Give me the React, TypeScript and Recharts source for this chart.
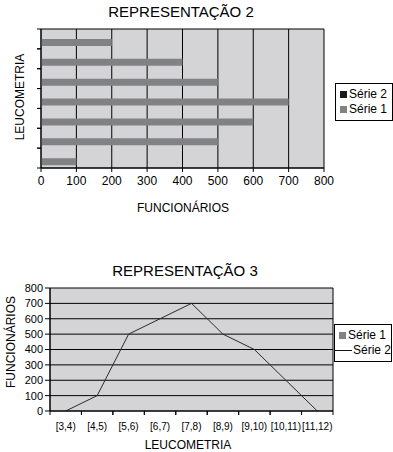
import { BarChart, Bar, LineChart, Line, XAxis, YAxis, CartesianGrid } from 'recharts'

// faixas de leucometria (classes) e nº de funcionários por faixa
const classes = ['[3,4)', '[4,5)', '[5,6)', '[6,7)', '[7,8)', '[8,9)', '[9,10)', '[10,11)', '[11,12)']
const funcionarios = [0, 100, 500, 600, 700, 500, 400, 200, 0]
const serie2Barras = [0, 0, 0, 0, 0, 0, 0]
const funcTicks = [0, 100, 200, 300, 400, 500, 600, 700, 800]

// representação 2 só mostra as classes [4,5) .. [10,11)
const barData = classes.slice(1, 8).map((c, i) => ({
  classe: c,
  s1: funcionarios[i + 1],
  s2: serie2Barras[i],
}))
const lineData = classes.map((c, i) => ({ classe: c, s2: funcionarios[i] }))

const FONT = '"Liberation Sans", Arial, sans-serif'
const GRAY_BG = '#d4d4d6'
const BAR_GRAY = '#818284'

function Txt({ x, y, size = 12, rotate = false, children }: any) {
  return (
    <div
      style={{
        position: 'absolute',
        left: x,
        top: y,
        transform: `translate(-50%, -50%)${rotate ? ' rotate(-90deg)' : ''}`,
        whiteSpace: 'nowrap',
        fontSize: size,
        color: '#000',
        lineHeight: 1,
      }}
    >
      {children}
    </div>
  )
}

// tick marks at band edges (excel style)
const BandTickY = (props: any) => {
  const { x, y, payload } = props
  const off = payload.offset ?? 0
  return (
    <g>
      <line x1={x - 4} x2={x} y1={y - off} y2={y - off} stroke="#000" />
      <line x1={x - 4} x2={x} y1={y + off} y2={y + off} stroke="#000" />
    </g>
  )
}

const BandTickX = (props: any) => {
  const { x, y, payload } = props
  const off = payload.offset ?? 0
  return (
    <g>
      <line x1={x - off} x2={x - off} y1={y} y2={y + 4} stroke="#000" />
      <line x1={x + off} x2={x + off} y1={y} y2={y + 4} stroke="#000" />
      <text x={x} y={y + 16} textAnchor="middle" dominantBaseline="middle" fontSize={10} fill="#000" fontFamily={FONT}>
        {payload.value}
      </text>
    </g>
  )
}

function LegendBox({ left, top, items }: { left: number; top: number; items: { name: string; kind: string; color: string }[] }) {
  return (
    <div
      style={{
        position: 'absolute',
        left,
        top,
        width: 56,
        border: '1px solid #000',
        background: '#fff',
        padding: '3px 0',
        fontSize: 12,
        lineHeight: '15px',
        color: '#000',
      }}
    >
      {items.map((it) => (
        <div key={it.name} style={{ display: 'flex', alignItems: 'center', height: 15 }}>
          {it.kind === 'line' ? (
            <span style={{ width: 17, height: 1, background: it.color, marginRight: 1 }} />
          ) : (
            <span style={{ width: 7, height: 7, background: it.color, marginLeft: 4, marginRight: 2 }} />
          )}
          <span>{it.name}</span>
        </div>
      ))}
    </div>
  )
}

export default function App() {
  return (
    <div style={{ position: 'absolute', left: 0, top: 0, width: 393, height: 452, background: '#fff', fontFamily: FONT }}>
      {/* REPRESENTAÇÃO 2 */}
      <div style={{ position: 'absolute', left: 0, top: 0 }}>
        <BarChart
          width={393}
          height={230}
          data={barData}
          layout="vertical"
          barSize={7}
          barGap={0}
          margin={{ top: 29, right: 69, left: 21, bottom: 32 }}
        >
          <CartesianGrid
            fill={GRAY_BG}
            stroke="#000"
            strokeWidth={1}
            horizontalCoordinatesGenerator={({ offset }: any) => [offset.top, offset.top + offset.height]}
          />
          <XAxis
            type="number"
            domain={[0, 800]}
            ticks={funcTicks}
            interval={0}
            tickSize={4}
            axisLine={{ stroke: '#000' }}
            tickLine={{ stroke: '#000' }}
            tick={{ fill: '#000', fontSize: 12, fontFamily: FONT }}
            tickMargin={4}
            height={30}
          />
          <YAxis
            type="category"
            dataKey="classe"
            reversed
            width={20}
            tickSize={0}
            tickMargin={0}
            tickLine={false}
            axisLine={{ stroke: '#000' }}
            tick={<BandTickY />}
            interval={0}
          />
          <Bar dataKey="s2" name="Série 2" fill="#1a1a1a" isAnimationActive={false} />
          <Bar dataKey="s1" name="Série 1" fill={BAR_GRAY} isAnimationActive={false} />
        </BarChart>
        <Txt x={181} y={11} size={15}>REPRESENTAÇÃO 2</Txt>
        <Txt x={20} y={97} rotate>LEUCOMETRIA</Txt>
        <Txt x={183} y={208}>FUNCIONÁRIOS</Txt>
        <LegendBox
          left={335}
          top={83}
          items={[
            { name: 'Série 2', kind: 'box', color: '#1a1a1a' },
            { name: 'Série 1', kind: 'box', color: BAR_GRAY },
          ]}
        />
      </div>

      {/* REPRESENTAÇÃO 3 */}
      <div style={{ position: 'absolute', left: 0, top: 240 }}>
        <LineChart width={393} height={212} data={lineData} margin={{ top: 48, right: 60, left: 20, bottom: 16 }}>
          <CartesianGrid
            fill={GRAY_BG}
            stroke="#000"
            strokeWidth={1}
            verticalCoordinatesGenerator={({ offset }: any) => [offset.left, offset.left + offset.width]}
          />
          <XAxis
            dataKey="classe"
            scale="band"
            height={25}
            interval={0}
            tickSize={0}
            tickMargin={0}
            tickLine={false}
            axisLine={{ stroke: '#000' }}
            tick={<BandTickX />}
          />
          <YAxis
            domain={[0, 800]}
            ticks={funcTicks}
            interval={0}
            width={30}
            tickSize={5}
            tickMargin={2}
            axisLine={{ stroke: '#000' }}
            tickLine={{ stroke: '#000' }}
            tick={{ fill: '#000', fontSize: 11, fontFamily: FONT }}
          />
          <Line
            type="linear"
            dataKey="s2"
            name="Série 2"
            stroke="#2a2a2a"
            strokeWidth={1}
            dot={false}
            isAnimationActive={false}
          />
        </LineChart>
        <Txt x={185} y={30} size={15}>REPRESENTAÇÃO 3</Txt>
        <Txt x={11} y={102} rotate>FUNCIONÁRIOS</Txt>
        <Txt x={188} y={205}>LEUCOMETRIA</Txt>
        <LegendBox
          left={334}
          top={84}
          items={[
            { name: 'Série 1', kind: 'box', color: BAR_GRAY },
            { name: 'Série 2', kind: 'line', color: '#111' },
          ]}
        />
      </div>
    </div>
  )
}
